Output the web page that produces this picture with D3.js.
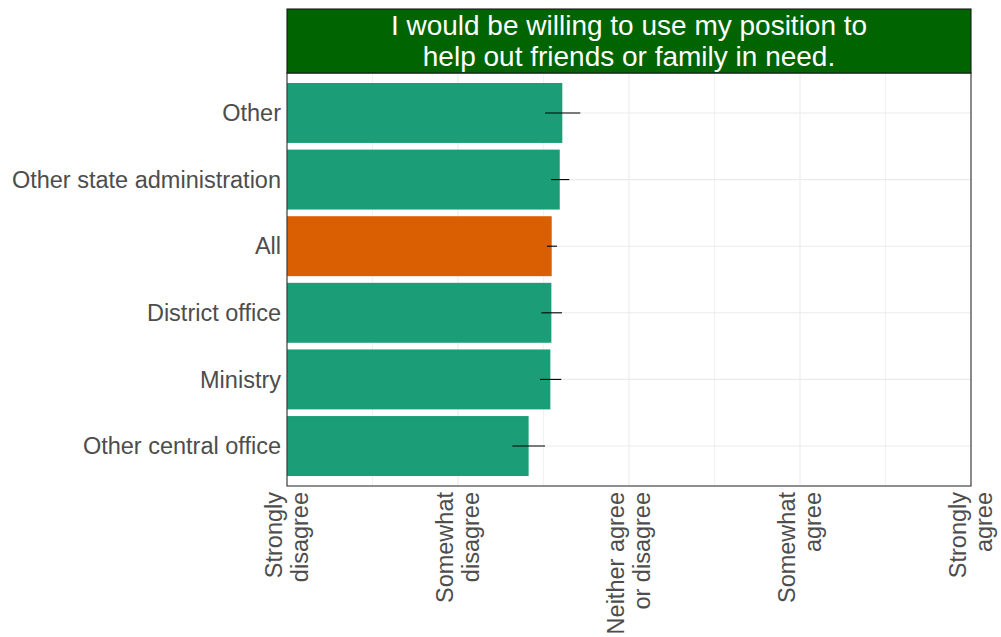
<!DOCTYPE html>
<html>
<head>
<meta charset="utf-8">
<script src="https://cdn.jsdelivr.net/npm/d3@7"></script>
<style>
  html, body { margin: 0; padding: 0; background: #ffffff; }
  svg { display: block; font-family: "Liberation Sans", Arial, sans-serif; }
</style>
</head>
<body>
<svg id="chart" width="1001" height="637"></svg>
<script>
// Mean agreement (1 = Strongly disagree ... 5 = Strongly agree) by workplace, with CI
const categories = ["Other central office", "Ministry", "District office", "All", "Other state administration", "Other"];
const means      = [2.413, 2.540, 2.546, 2.548, 2.595, 2.610];
const lower      = [2.318, 2.480, 2.487, 2.520, 2.544, 2.509];
const upper      = [2.509, 2.604, 2.608, 2.579, 2.651, 2.715];
const tickValues = [1, 2, 3, 4, 5];
const tickLabels = [["Strongly", "disagree"], ["Somewhat", "disagree"], ["Neither agree", "or disagree"], ["Somewhat", "agree"], ["Strongly", "agree"]];
const titleLines = ["I would be willing to use my position to", "help out friends or family in need."];

const panel = { left: 287, right: 971, top: 73, bottom: 486 };
const strip = { top: 9, bottom: 73 };

const svg = d3.select("#chart");

const x = d3.scaleLinear().domain([1, 5]).range([panel.left, panel.right]);
const y = d3.scaleBand()
  .domain(categories)
  .range([panel.bottom, panel.top])
  .paddingInner(0.1)
  .paddingOuter(0.15);

const g = svg.append("g");

// panel background
g.append("rect")
  .attr("x", panel.left).attr("y", panel.top)
  .attr("width", panel.right - panel.left).attr("height", panel.bottom - panel.top)
  .attr("fill", "#ffffff");

// minor vertical grid
const minor = d3.range(1.5, 5, 1);
g.selectAll("line.minor").data(minor).join("line")
  .attr("class", "minor")
  .attr("x1", d => x(d)).attr("x2", d => x(d))
  .attr("y1", panel.top).attr("y2", panel.bottom)
  .attr("stroke", "#f2f2f2").attr("stroke-width", 1);

// major vertical grid
g.selectAll("line.majorx").data(tickValues).join("line")
  .attr("class", "majorx")
  .attr("x1", d => x(d)).attr("x2", d => x(d))
  .attr("y1", panel.top).attr("y2", panel.bottom)
  .attr("stroke", "#ebebeb").attr("stroke-width", 1.1);

// horizontal grid at category centres
g.selectAll("line.majory").data(categories).join("line")
  .attr("class", "majory")
  .attr("x1", panel.left).attr("x2", panel.right)
  .attr("y1", d => y(d) + y.bandwidth() / 2).attr("y2", d => y(d) + y.bandwidth() / 2)
  .attr("stroke", "#ebebeb").attr("stroke-width", 1.1);

// bars
g.selectAll("rect.bar").data(categories).join("rect")
  .attr("class", "bar")
  .attr("x", x(1))
  .attr("y", d => y(d))
  .attr("width", (d, i) => x(means[i]) - x(1))
  .attr("height", y.bandwidth())
  .attr("fill", d => d === "All" ? "#d95f02" : "#1b9e77");

// confidence intervals
g.selectAll("line.ci").data(categories).join("line")
  .attr("class", "ci")
  .attr("x1", (d, i) => x(lower[i])).attr("x2", (d, i) => x(upper[i]))
  .attr("y1", d => y(d) + y.bandwidth() / 2).attr("y2", d => y(d) + y.bandwidth() / 2)
  .attr("stroke", "#000000").attr("stroke-width", 1.1);

// panel border
g.append("rect")
  .attr("x", panel.left).attr("y", panel.top)
  .attr("width", panel.right - panel.left).attr("height", panel.bottom - panel.top)
  .attr("fill", "none").attr("stroke", "#333333").attr("stroke-width", 1.1);

// facet strip
g.append("rect")
  .attr("x", panel.left).attr("y", strip.top)
  .attr("width", panel.right - panel.left).attr("height", strip.bottom - strip.top)
  .attr("fill", "#006400").attr("stroke", "#1a1a1a").attr("stroke-width", 1.1);

const cx = (panel.left + panel.right) / 2;
g.append("text")
  .attr("x", cx).attr("y", 34.5)
  .attr("text-anchor", "middle")
  .attr("fill", "#ffffff")
  .attr("font-size", 28)
  .selectAll("tspan").data(titleLines).join("tspan")
  .attr("x", cx)
  .attr("dy", (d, i) => i === 0 ? 0 : 31)
  .text(d => d);

// y axis labels
g.selectAll("text.ylab").data(categories).join("text")
  .attr("class", "ylab")
  .attr("x", panel.left - 6)
  .attr("y", d => y(d) + y.bandwidth() / 2)
  .attr("dy", "0.35em")
  .attr("text-anchor", "end")
  .attr("fill", "#4d4d4d")
  .attr("font-size", 23.5)
  .text(d => d);

// x axis labels, rotated
const xl = g.selectAll("g.xlab").data(tickValues).join("g")
  .attr("class", "xlab")
  .attr("transform", d => `translate(${x(d)},${panel.bottom + 6}) rotate(-90)`);

xl.each(function(d, i) {
  const lines = tickLabels[i];
  const lh = 26;
  const t = d3.select(this).append("text")
    .attr("text-anchor", "end")
    .attr("fill", "#4d4d4d")
    .attr("font-size", 23.5);
  lines.forEach((s, k) => {
    const off = (k - (lines.length - 1) / 2) * lh;
    t.append("tspan").attr("x", 0).attr("y", off).attr("dy", "0.35em").text(s);
  });
});
</script>
</body>
</html>
